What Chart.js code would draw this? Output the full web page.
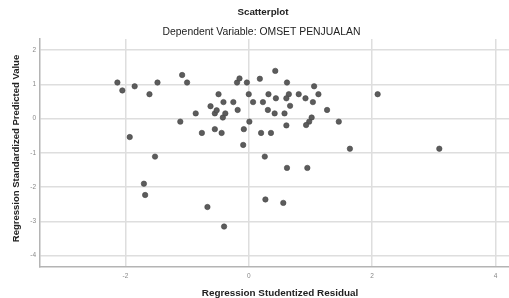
<!DOCTYPE html>
<html>
<head>
<meta charset="utf-8">
<script src="https://cdn.jsdelivr.net/npm/chart.js@4/dist/chart.umd.min.js"></script>
<style>
html,body{margin:0;padding:0;background:#fff;}
canvas{display:block;}
</style>
</head>
<body>
<canvas id="c" width="509" height="298"></canvas>
<script>
const chartTitle = "Scatterplot";
const chartSubtitle = "Dependent Variable: OMSET PENJUALAN";
const xAxisTitle = "Regression Studentized Residual";
const yAxisTitle = "Regression Standardized Predicted Value";

const studentizedResidual = [
  -2.13, -2.05, -1.85, -1.61, -1.48, -1.08, -1.00, -1.11, -0.86, -0.76,
  -1.93, -1.52, -0.62, -0.55, -0.52, -0.49, -0.55, -0.44, -0.41, -0.42,
  -0.38, -0.25, -0.18, -0.19, -0.15, -0.08, -0.09, -0.03, 0.00, 0.01,
  0.07, 0.18, 0.43, 0.62, 0.32, 0.65, 0.61, 0.81, 0.92, 1.04,
  1.13, 1.06, 0.23, 0.44, 0.31, 0.42, 0.58, 0.67, 1.27, 1.02,
  0.98, 0.93, 1.46, 0.61, 0.20, 0.36, 1.64, 2.09, 3.09, 0.26,
  0.62, 0.95, -1.70, -1.68, -0.67, -0.40, 0.27, 0.56
];
const standardizedPredicted = [
  1.05, 0.82, 0.94, 0.71, 1.05, 1.27, 1.05, -0.09, 0.15, -0.42,
  -0.54, -1.11, 0.36, 0.15, 0.24, 0.71, -0.31, -0.42, 0.48, 0.03,
  0.15, 0.48, 0.25, 1.05, 1.17, -0.31, -0.77, 1.05, 0.71, -0.09,
  0.48, 1.16, 1.39, 1.05, 0.71, 0.71, 0.59, 0.71, 0.59, 0.48,
  0.71, 0.94, 0.48, 0.59, 0.25, 0.15, 0.15, 0.37, 0.25, 0.03,
  -0.09, -0.19, -0.09, -0.20, -0.42, -0.42, -0.88, 0.71, -0.88, -1.11,
  -1.44, -1.44, -1.90, -2.23, -2.58, -3.15, -2.36, -2.46
];
const xTickValues = [-2, 0, 2, 4];
const yTickValues = [-4, -3, -2, -1, 0, 1, 2];

const points = studentizedResidual.map((x, i) => ({ x: x, y: standardizedPredicted[i] }));

const textPlugin = {
  id: 'spssText',
  afterDraw(chart) {
    const ctx = chart.ctx;
    ctx.save();
    ctx.fillStyle = '#222';
    ctx.textAlign = 'center';
    ctx.textBaseline = 'alphabetic';
    ctx.font = 'bold 9.8px "Liberation Sans", Arial, sans-serif';
    ctx.fillText(chartTitle, 263, 15);
    ctx.font = '10.4px "Liberation Sans", Arial, sans-serif';
    ctx.fillText(chartSubtitle, 261.5, 34.5);
    ctx.font = 'bold 9.9px "Liberation Sans", Arial, sans-serif';
    ctx.fillText(xAxisTitle, 280, 295.5);
    ctx.translate(19, 148.5);
    ctx.rotate(-Math.PI / 2);
    ctx.font = 'bold 9.5px "Liberation Sans", Arial, sans-serif';
    ctx.fillText(yAxisTitle, 0, 0);
    ctx.restore();
  }
};

new Chart(document.getElementById('c'), {
  type: 'scatter',
  data: {
    datasets: [{
      data: points,
      backgroundColor: '#5c5c5c',
      borderColor: '#474747',
      borderWidth: 0.6,
      pointRadius: 2.7,
      pointHoverRadius: 2.7,
      clip: false
    }]
  },
  options: {
    responsive: false,
    devicePixelRatio: 1,
    animation: false,
    layout: { autoPadding: false, padding: { top: 39, left: 0, right: 0, bottom: 0 } },
    plugins: {
      legend: { display: false },
      tooltip: { enabled: false },
      title: { display: false }
    },
    scales: {
      x: {
        type: 'linear',
        position: 'bottom',
        min: -3.385,
        max: 4.22,
        afterFit(s) { s.height = 31; s.paddingLeft = 0; s.paddingRight = 0; },
        afterBuildTicks(s) { s.ticks = xTickValues.map(v => ({ value: v })); },
        ticks: {
          font: { family: '"Liberation Sans", Arial, sans-serif', size: 6.5 },
          color: '#888',
          padding: 5,
          maxRotation: 0,
          autoSkip: false
        },
        grid: { color: '#dedede', lineWidth: 1.5, drawTicks: false },
        border: { color: '#b4b4b4', width: 1.5 }
      },
      y: {
        type: 'linear',
        position: 'left',
        min: -4.33,
        max: 2.32,
        afterFit(s) { s.width = 40; s.paddingTop = 0; s.paddingBottom = 0; },
        afterBuildTicks(s) { s.ticks = yTickValues.map(v => ({ value: v })); },
        ticks: {
          font: { family: '"Liberation Sans", Arial, sans-serif', size: 6.5 },
          color: '#888',
          padding: 4,
          autoSkip: false
        },
        grid: { color: '#dedede', lineWidth: 1.5, drawTicks: false },
        border: { color: '#b4b4b4', width: 1.5 }
      }
    }
  },
  plugins: [textPlugin]
});
</script>
</body>
</html>
